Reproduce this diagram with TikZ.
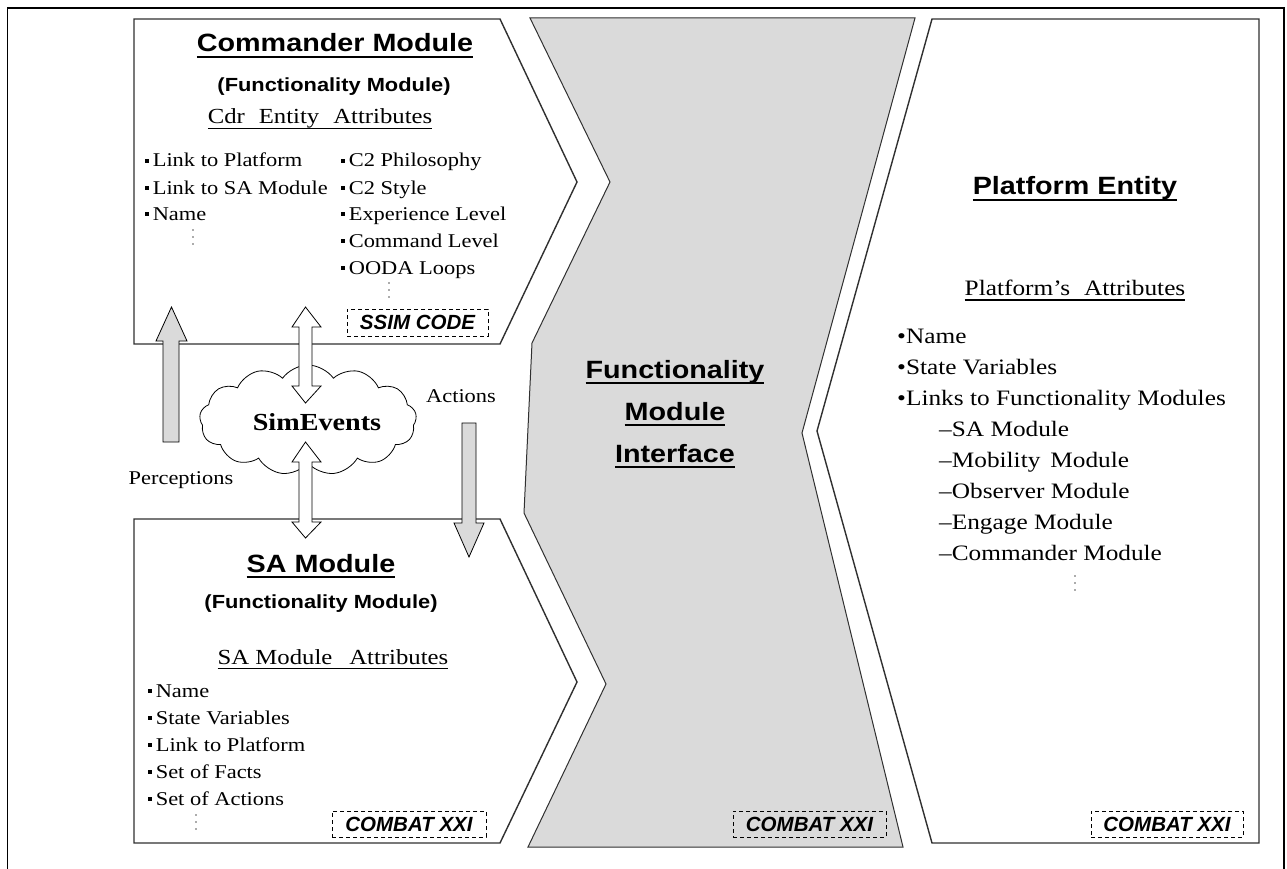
\documentclass[tikz,border=0pt]{standalone}
\usepackage{fontspec}
\setmainfont{Liberation Serif}[FakeStretch=1.15]
\newfontfamily\hsf{Liberation Sans}[FakeStretch=1.15]
\newfontfamily\tagf{Liberation Sans}
\usetikzlibrary{shapes.symbols}
\definecolor{panelgrey}{HTML}{DADADA}
\definecolor{edgecol}{HTML}{303030}
\newcommand\myhul[1]{\leavevmode\setbox0=\hbox{#1}\rlap{\vrule width\wd0 height -0.17em depth 0.25em}\box0}
\newcommand\mysul[1]{\leavevmode\setbox0=\hbox{#1}\rlap{\vrule width\wd0 height -0.2em depth 0.25em}\box0}
\newcommand\sqb{\rule[0.22em]{0.21em}{0.21em}\hspace{0.18em}}
\tikzset{
  module/.style={draw=edgecol, line width=1.4, fill=white, line join=miter},
  iface/.style={draw=edgecol, line width=1.0, fill=panelgrey, line join=miter},
  tagbox/.style={draw=black, line width=0.8, dash pattern=on 4pt off 3pt, inner sep=0,
    font=\tagf\bfseries\itshape\fontsize{20.5}{20.5}\selectfont},
  hd/.style={font=\hsf\bfseries\fontsize{25}{25}\selectfont, anchor=base, inner sep=0},
  subhd/.style={font=\hsf\bfseries\fontsize{19}{19}\selectfont, anchor=base, inner sep=0},
  stitle/.style={font=\fontsize{21.5}{21.5}\selectfont, anchor=base, inner sep=0},
  item/.style={font=\fontsize{19.5}{19.5}\selectfont, anchor=base west, inner sep=0},
  pitem/.style={font=\fontsize{22}{22}\selectfont, anchor=base west, inner sep=0},
  lbl/.style={font=\fontsize{19.5}{19.5}\selectfont, anchor=base, inner sep=0},
  greyarrow/.style={draw=black, line width=0.8, fill=panelgrey, line join=miter},
  whitearrow/.style={draw=black, line width=0.8, fill=white, line join=miter},
  dotfill/.style={fill=black!65}
}
\begin{document}
\begin{tikzpicture}[x=1pt,y=-1pt]
\useasboundingbox (0,0) rectangle (1287,869);
\fill[white] (0,0) rectangle (1287,869);
% outer frame
\draw[line width=1.2] (7.5,869) -- (7.5,8) -- (1284,8) -- (1284,869);

% panels
\draw[iface] (530,18) -- (915,18) -- (802,433) -- (903,847) -- (528,847) -- (606,684) -- (524,513) -- (532,343) -- (610,182) -- cycle;
\draw[module] (134,19) -- (500,19) -- (577,182) -- (500,344) -- (134,344) -- cycle;
\draw[module] (134,519) -- (500,519) -- (577,682) -- (500,843) -- (134,843) -- cycle;
\draw[module] (932,19) -- (1259,19) -- (1259,843) -- (932,843) -- (817,431) -- cycle;

% Commander module
\node[hd] (cmdT) at (335,52) {\myhul{Commander Module}};
\node[subhd] (cmdS) at (334,92) {(Functionality Module)};
\node[stitle] (cmdA) at (320,124) {\mysul{Cdr\hspace{14pt}Entity\hspace{14pt}Attributes}};
\node[item] (c1) at (145,167) {\sqb Link to Platform};
\node[item] (c2) at (145,194) {\sqb Link to SA Module};
\node[item] (c3) at (145,220) {\sqb Name};
\node[item] (c4) at (341,167) {\sqb C2 Philosophy};
\node[item] (c5) at (341,194) {\sqb C2 Style};
\node[item] (c6) at (341,220) {\sqb Experience Level};
\node[item] (c7) at (341,247) {\sqb Command Level};
\node[item] (c8) at (341,274) {\sqb OODA Loops};
\foreach \yy in {230,237,244} \fill[dotfill] (193,\yy) circle (0.9);
\foreach \yy in {283,290,297} \fill[dotfill] (389,\yy) circle (0.9);
\node[tagbox, minimum width=141, minimum height=27] (ssim) at (417.5,322.5) {SSIM CODE};

% SA module
\node[hd] (saT) at (321,572) {\myhul{SA Module}};
\node[subhd] (saS) at (321,608) {(Functionality Module)};
\node[stitle] (saA) at (333,664) {\mysul{SA Module\hspace{17pt}Attributes}};
\node[item] (s1) at (148,697) {\sqb Name};
\node[item] (s2) at (148,724) {\sqb State Variables};
\node[item] (s3) at (148,751) {\sqb Link to Platform};
\node[item] (s4) at (148,778) {\sqb Set of Facts};
\node[item] (s5) at (148,805) {\sqb Set of Actions};
\foreach \yy in {815,822,829} \fill[dotfill] (196,\yy) circle (0.9);
\node[tagbox, minimum width=154, minimum height=26] (satag) at (409,824) {COMBAT XXI};

% Interface
\node[hd] (i1) at (675,378) {\myhul{Functionality}};
\node[hd] (i2) at (675,420) {\myhul{Module}};
\node[hd] (i3) at (675,462) {\myhul{Interface}};
\node[tagbox, minimum width=153, minimum height=26] (iftag) at (809.5,824) {COMBAT XXI};

% Platform entity
\node[hd] (plT) at (1075,195) {\myhul{Platform Entity}};
\node[font=\fontsize{22}{22}\selectfont, anchor=base, inner sep=0] (plA) at (1075,295) {\mysul{Platform's\hspace{14pt}Attributes}};
\node[pitem] (p1) at (897,343) {•Name};
\node[pitem] (p2) at (897,374) {•State Variables};
\node[pitem] (p3) at (897,405) {•Links to Functionality Modules};
\node[pitem] (p4) at (939,436) {–SA Module};
\node[pitem] (p5) at (939,467) {–Mobility\hspace{10pt}Module};
\node[pitem] (p6) at (939,498) {–Observer Module};
\node[pitem] (p7) at (939,529) {–Engage Module};
\node[pitem] (p8) at (939,560) {–Commander Module};
\foreach \yy in {576,583,590} \fill[dotfill] (1075,\yy) circle (0.9);
\node[tagbox, minimum width=152, minimum height=26] (pltag) at (1167,824) {COMBAT XXI};

% SimEvents cloud
\node[cloud, cloud ignores aspect, cloud puffs=13, cloud puff arc=110, draw=black, line width=0.8, fill=white,
      minimum width=217, minimum height=110, inner sep=0] (sim) at (308,420) {};
\node[font=\bfseries\fontsize{24.5}{24.5}\selectfont, anchor=base, inner sep=0] (simT) at (317,430) {SimEvents};

% arrows
\draw[greyarrow] (163,442) -- (163,341) -- (156,341) -- (171.5,307) -- (187,341) -- (179,341) -- (179,442) -- cycle;
\draw[greyarrow] (462,423) -- (476,423) -- (476,523) -- (484,523) -- (469,557) -- (454,523) -- (462,523) -- cycle;
\draw[whitearrow] (305.5,307) -- (321,327) -- (312,327) -- (312,386) -- (321,386) -- (305.5,403) -- (292,386) -- (299,386) -- (299,327) -- (292,327) -- cycle;
\draw[whitearrow] (305.5,442) -- (321,462) -- (312,462) -- (312,522) -- (321,522) -- (305.5,538) -- (292,522) -- (299,522) -- (299,462) -- (292,462) -- cycle;

\node[lbl] (perc) at (181,484) {Perceptions};
\node[lbl] (act) at (461,402) {Actions};
\end{tikzpicture}
\end{document}
